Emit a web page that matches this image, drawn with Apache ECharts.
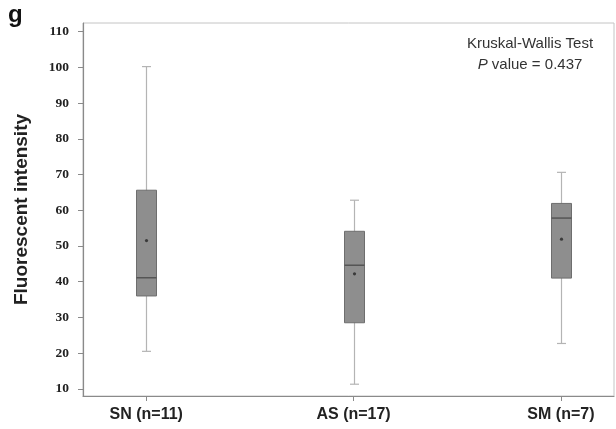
<!DOCTYPE html>
<html>
<head>
<meta charset="utf-8">
<script src="https://cdn.jsdelivr.net/npm/echarts@6/dist/echarts.min.js"></script>
<style>html,body{margin:0;padding:0;background:#fff;}#c{width:616px;height:429px;}</style>
</head>
<body>
<div id="c"></div>
<script>
var categories = ['SN (n=11)', 'AS (n=17)', 'SM (n=7)'];
var whiskerLow = [20.5, 11.3, 22.7];
var q1 = [36.0, 28.5, 41.0];
var median = [41.1, 44.6, 57.8];
var q3 = [65.6, 54.1, 61.9];
var whiskerHigh = [100.2, 62.8, 70.6];
var means = [51.5, 42.2, 51.9];
var yTicks = [10, 20, 30, 40, 50, 60, 70, 80, 90, 100, 110];
var xPositions = [1, 2, 3];

var boxData = categories.map(function (c, i) {
  return [xPositions[i], whiskerLow[i], q1[i], median[i], q3[i], whiskerHigh[i], means[i]];
});

var chart = echarts.init(document.getElementById('c'), null, {renderer: 'canvas'});

function renderBox(params, api) {
  var x = api.value(0);
  var pLow = api.coord([x, api.value(1)]);
  var pQ1 = api.coord([x, api.value(2)]);
  var pMed = api.coord([x, api.value(3)]);
  var pQ3 = api.coord([x, api.value(4)]);
  var pHigh = api.coord([x, api.value(5)]);
  var pMean = api.coord([x, api.value(6)]);
  var cx = Math.round(pLow[0]) + 0.5;
  var bw = 20, cw = 9;
  var wStyle = {stroke: '#b4b4b4', lineWidth: 1.2};
  return {
    type: 'group',
    children: [
      {type: 'line', shape: {x1: cx, y1: pLow[1], x2: cx, y2: pHigh[1]}, style: wStyle},
      {type: 'line', shape: {x1: cx - cw / 2, y1: pLow[1], x2: cx + cw / 2, y2: pLow[1]}, style: wStyle},
      {type: 'line', shape: {x1: cx - cw / 2, y1: pHigh[1], x2: cx + cw / 2, y2: pHigh[1]}, style: wStyle},
      {type: 'rect', shape: {x: cx - bw / 2, y: pQ3[1], width: bw, height: pQ1[1] - pQ3[1]},
        style: {fill: '#8e8e8e', stroke: '#6e6e6e', lineWidth: 1}},
      {type: 'line', shape: {x1: cx - bw / 2, y1: pMed[1], x2: cx + bw / 2, y2: pMed[1]},
        style: {stroke: '#555555', lineWidth: 1.5}},
      {type: 'circle', shape: {cx: cx, cy: pMean[1], r: 1.6}, style: {fill: '#3a3a3a'}}
    ]
  };
}

chart.setOption({
  animation: false,
  backgroundColor: '#fff',
  grid: {left: 83, right: 2, top: 23, bottom: 33, show: true, borderColor: '#c4c4c4', borderWidth: 1},
  xAxis: {
    type: 'value', min: 0.695, max: 3.256,
    axisLine: {show: true, lineStyle: {color: '#8a8a8a', width: 1.2}},
    axisTick: {show: true, customValues: xPositions, length: 5, lineStyle: {color: '#8a8a8a'}},
    axisLabel: {
      customValues: xPositions, margin: 11,
      formatter: function (v) { return categories[Math.round(v) - 1] || ''; },
      fontFamily: 'Liberation Sans, Arial', fontWeight: 'bold', fontSize: 16, color: '#222'
    },
    splitLine: {show: false}
  },
  yAxis: {
    type: 'value', min: 8, max: 112.4,
    name: 'Fluorescent intensity', nameLocation: 'middle', nameGap: 52,
    nameTextStyle: {fontFamily: 'Liberation Sans, Arial', fontSize: 19, fontWeight: 'bold', color: '#222'},
    axisLine: {show: true, lineStyle: {color: '#8a8a8a', width: 1.2}},
    axisTick: {show: true, customValues: yTicks, length: 5, lineStyle: {color: '#8a8a8a'}},
    axisLabel: {
      customValues: yTicks, margin: 14,
      fontFamily: 'Liberation Serif, DejaVu Serif', fontWeight: 'bold', fontSize: 13.5, color: '#222'
    },
    splitLine: {show: false}
  },
  graphic: [
    {type: 'text', left: 8, top: 3, style: {text: 'g', font: 'bold 24px "Liberation Sans", Arial', fill: '#111'}},
    {type: 'text', x: 530, y: 44, style: {text: 'Kruskal-Wallis Test', font: '15px "Liberation Sans", Arial', fill: '#333', align: 'center', verticalAlign: 'middle'}},
    {type: 'text', x: 530, y: 65, style: {
      text: '{i|P} value = 0.437', align: 'center', verticalAlign: 'middle',
      rich: {i: {font: 'italic 15px "Liberation Sans", Arial', fill: '#333'}},
      font: '15px "Liberation Sans", Arial', fill: '#333'}}
  ],
  series: [{
    type: 'custom',
    renderItem: renderBox,
    encode: {x: 0, y: [1, 2, 3, 4, 5, 6]},
    data: boxData
  }]
});
</script>
</body>
</html>
